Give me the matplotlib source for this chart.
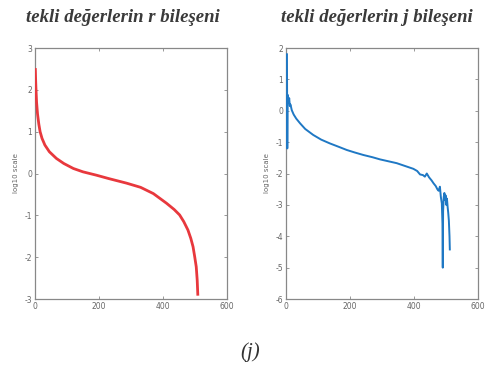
import matplotlib
matplotlib.use("Agg")
import matplotlib.pyplot as plt

plt.rcParams["axes.unicode_minus"] = False

# Left panel: log10 singular values of r component
r_idx = [1, 2, 3, 5, 8, 12, 16, 22, 31, 45, 67, 90, 120, 150, 192, 230, 286, 330, 370, 411, 435, 452, 465, 478, 487, 494, 499, 504, 507, 509]
r_val = [2.52, 2.25, 2.04, 1.70, 1.42, 1.18, 1.00, 0.84, 0.68, 0.52, 0.36, 0.24, 0.12, 0.04, -0.04, -0.12, -0.23, -0.33, -0.48, -0.71, -0.86, -0.99, -1.15, -1.35, -1.55, -1.75, -1.98, -2.23, -2.55, -2.92]

# Right panel: log10 singular values of j component
j_idx = [3, 4, 5, 6, 8, 10, 12, 14, 18, 24, 32, 44, 60, 85, 110, 137, 165, 190, 215, 242, 270, 294, 320, 346, 372, 398, 410, 419, 428, 434, 440, 447, 455, 461, 468, 473, 477, 481, 484, 487, 489, 490, 491, 493, 495, 497, 499, 501, 503, 505, 507, 509, 511, 512]
j_val = [1.80, -1.20, 0.40, 0.50, 0.25, 0.40, 0.15, 0.20, 0.02, -0.12, -0.25, -0.40, -0.58, -0.77, -0.92, -1.04, -1.15, -1.25, -1.33, -1.41, -1.48, -1.55, -1.61, -1.67, -1.76, -1.85, -1.92, -2.03, -2.05, -2.10, -2.00, -2.12, -2.22, -2.31, -2.40, -2.50, -2.55, -2.42, -2.75, -2.95, -3.60, -5.00, -3.20, -2.75, -2.62, -2.85, -2.70, -3.00, -2.80, -3.05, -3.25, -3.50, -4.00, -4.42]

x_ticks = [0, 200, 400, 600]
r_yticks = [-3, -2, -1, 0, 1, 2, 3]
j_yticks = [-6, -5, -4, -3, -2, -1, 0, 1, 2]

titles = ["tekli değerlerin r bileşeni", "tekli değerlerin j bileşeni"]
ylabel = "log10 scale"
caption = "(j)"

fig = plt.figure(figsize=(4.92, 3.74), dpi=100)
ax1 = fig.add_axes([0.0711, 0.2005, 0.3902, 0.6711])
ax2 = fig.add_axes([0.5813, 0.2005, 0.3902, 0.6711])

ax1.plot(r_idx, r_val, color="#e8383d", lw=2.0, solid_capstyle="butt", zorder=3)
ax2.plot(j_idx, j_val, color="#1f78c4", lw=1.4, zorder=3)

ax1.set_ylim(-3, 3)
ax1.set_yticks(r_yticks)
ax2.set_ylim(-6, 2)
ax2.set_yticks(j_yticks)

for ax in (ax1, ax2):
    ax.set_xlim(0, 600)
    ax.set_xticks(x_ticks)
    ax.tick_params(direction="in", length=2.5, width=0.6, labelsize=5.5,
                   labelcolor="#666666", color="#888888",
                   top=True, right=True, pad=2)
    for s in ax.spines.values():
        s.set_color("#888888")
        s.set_linewidth(0.9)
    ax.set_ylabel(ylabel, fontsize=5, color="#666666", labelpad=4)

fig.text(0.249, 0.953, titles[0], ha="center", va="center",
         family="Liberation Serif", style="italic", weight="bold",
         fontsize=13.5, color="#3a3a3a")
fig.text(0.767, 0.953, titles[1], ha="center", va="center",
         family="Liberation Serif", style="italic", weight="bold",
         fontsize=13.5, color="#3a3a3a")
fig.text(0.508, 0.059, caption, ha="center", va="center",
         family="Liberation Serif", style="italic",
         fontsize=15, color="#333333")

fig.savefig("out.png", dpi=100)
